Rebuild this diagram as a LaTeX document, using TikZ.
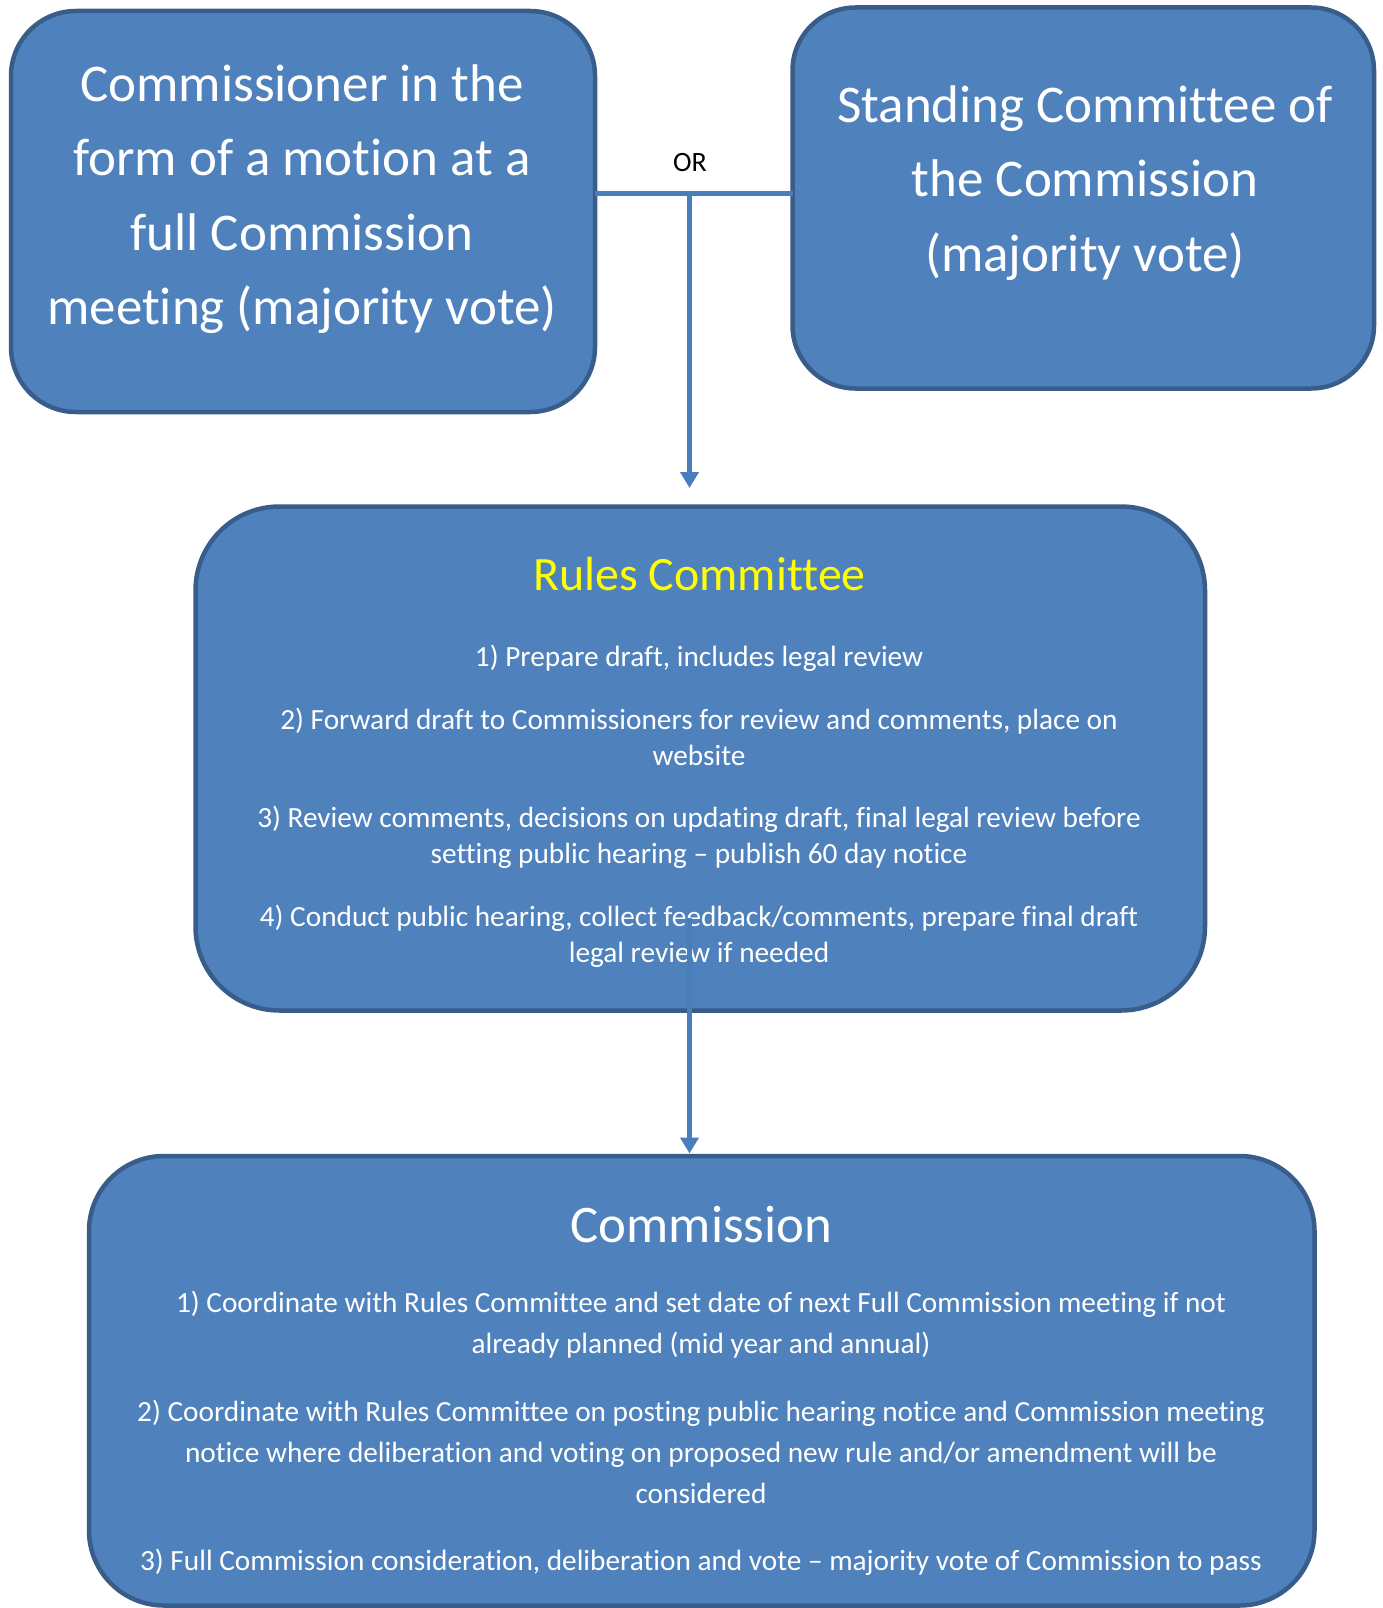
\documentclass[tikz,border=0pt]{standalone}
\usepackage{fontspec}
\setmainfont{Carlito}[Ligatures={NoCommon}]
\usetikzlibrary{arrows.meta}
\definecolor{boxfill}{HTML}{4F81BD}
\definecolor{boxline}{HTML}{385D8A}
\definecolor{connc}{HTML}{4A7EBB}
\definecolor{ttl}{HTML}{FFFF00}
\begin{document}
\begin{tikzpicture}[x=1pt,y=-1pt,
  box/.style={draw=boxline, fill=boxfill, line width=4.5pt, inner sep=0pt, outer sep=0pt},
  conn/.style={draw=connc, line width=5pt},
  arr/.style={conn, -{Triangle[length=16pt,width=18pt]}},
  big/.style={text=white, align=center, font=\fontsize{53}{74.5}\selectfont, inner sep=0pt},
  ritem/.style={text=white, align=center, font=\fontsize{29.3}{36}\selectfont, inner sep=0pt},
  citem/.style={text=white, align=center, font=\fontsize{29.3}{41}\selectfont, inner sep=0pt}
]
\useasboundingbox (0,0) rectangle (1382,1608);

% boxes
\node[box, rounded corners=65pt, minimum width=584pt, minimum height=401pt] (b1) at (303,211.5) {};
\node[box, rounded corners=63pt, minimum width=581.5pt, minimum height=381pt] (b2) at (1083.25,198) {};
\node[box, rounded corners=84pt, minimum width=1009.5pt, minimum height=504pt] (b3) at (700.25,758.5) {};
\node[box, rounded corners=75pt, minimum width=1225.5pt, minimum height=449.5pt] (b4) at (701.75,1380.75) {};

% texts of the top boxes
\node[big] (t1) at (302,199) {Commissioner in the\\form of a motion at a\\full Commission\\meeting (majority vote)};
\node[big] (t2) at (1085,183) {Standing Committee of\\the Commission\\(majority vote)};

% Rules Committee
\node[text=ttl, inner sep=0pt, font=\fontsize{47.9}{57}\selectfont] (rt) at (699.5,574) {Rules Committee};
\node[ritem] (r1) at (699,658) {1) Prepare draft, includes legal review};
\node[ritem] (r2) at (699,737) {2) Forward draft to Commissioners for review and comments, place on\\website};
\node[ritem] (r3) at (699,837) {3) Review comments, decisions on updating draft, final legal review before\\setting public hearing – publish 60 day notice};
\node[ritem] (r4) at (699,936) {4) Conduct public hearing, collect feedback/comments, prepare final draft\\legal review if needed};

% Commission
\node[text=white, inner sep=0pt, font=\fontsize{52.8}{63}\selectfont] (ct) at (701.5,1225) {Commission};
\node[citem] (c1) at (701,1325) {1) Coordinate with Rules Committee and set date of next Full Commission meeting if not\\already planned (mid year and annual)};
\node[citem] (c2) at (701,1452) {2) Coordinate with Rules Committee on posting public hearing notice and Commission meeting\\notice where deliberation and voting on proposed new rule and/or amendment will be\\considered};
\node[citem] (c3) at (701,1562) {3) Full Commission consideration, deliberation and vote – majority vote of Commission to pass};

% connectors
\coordinate (j) at (689.5,193.5);
\coordinate (a1) at (689.5,488);
\coordinate (s2) at (689.5,918);
\draw[conn] (j -| b1.east) -- (j -| b2.west);
\draw[arr] (j) -- (a1);
\node[inner sep=0pt, font=\fontsize{28}{34}\selectfont] (or) at (690,163) {OR};
\draw[arr, shorten >=2.5pt] (s2) -- (s2 |- b4.north);
\end{tikzpicture}
\end{document}
